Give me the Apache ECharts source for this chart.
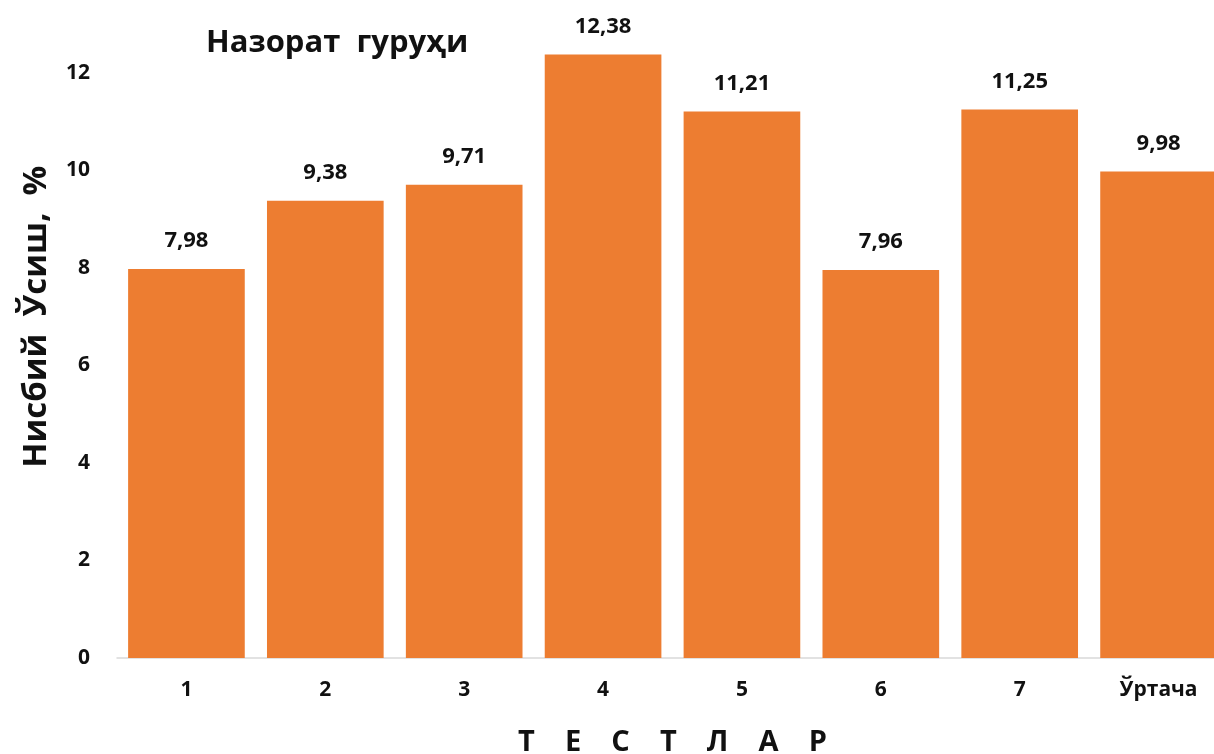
<!DOCTYPE html>
<html><head><meta charset="utf-8">
<script src="https://cdn.jsdelivr.net/npm/echarts@6/dist/echarts.min.js"></script>
<style>html,body{margin:0;padding:0;background:#fff}#c{width:1214px;height:754px}</style>
</head><body><div id="c"></div>
<script>
const categories = ['1','2','3','4','5','6','7','Ўртача'];
const values = [7.98, 9.38, 9.71, 12.38, 11.21, 7.96, 11.25, 9.98];
const yTicks = [0, 2, 4, 6, 8, 10, 12, 14];
const titleText = 'Назорат  гуруҳи';
const yName = 'Нисбий  Ўсиш,  %';
const xName = 'Т    Е    С    Т    Л    А    Р';

const font = '"Open Sans", "Noto Sans", sans-serif';
const chart = echarts.init(document.getElementById('c'));
chart.setOption({
  animation: false,
  title: {
    text: titleText, left: 201, top: 23,
    textStyle: {fontFamily: font, fontWeight: 'bold', fontSize: 31, color: '#111'}
  },
  grid: {left: 117, right: -14, top: -24.5, bottom: 96, containLabel: false, outerBoundsMode: 'none'},
  xAxis: {
    type: 'category', data: categories,
    axisLine: {lineStyle: {color: '#d9d9d9', width: 1.5}},
    axisTick: {show: false},
    axisLabel: {margin: 22, fontFamily: font, fontWeight: 'bold', fontSize: 21, color: '#111'},
    name: xName, nameLocation: 'middle', nameGap: 70,
    nameTextStyle: {fontFamily: font, fontWeight: 'bold', fontSize: 29, color: '#111'}
  },
  yAxis: {
    type: 'value', min: yTicks[0], max: yTicks[yTicks.length - 1], interval: 2,
    axisLine: {show: false}, axisTick: {show: false}, splitLine: {show: false},
    axisLabel: {margin: 27, showMaxLabel: false, fontFamily: font, fontWeight: 'bold', fontSize: 21, color: '#111'},
    name: yName, nameLocation: 'middle', nameGap: 64, nameRotate: 90,
    nameTextStyle: {fontFamily: font, fontWeight: 'bold', fontSize: 33, color: '#111'}
  },
  series: [{
    type: 'bar', data: values, barCategoryGap: '16%',
    itemStyle: {color: '#ED7D31'},
    label: {show: true, position: 'top', distance: 17, fontFamily: font, fontWeight: 'bold',
      fontSize: 22, color: '#111', formatter: p => p.value.toFixed(2).replace('.', ',')}
  }]
});
</script></body></html>
